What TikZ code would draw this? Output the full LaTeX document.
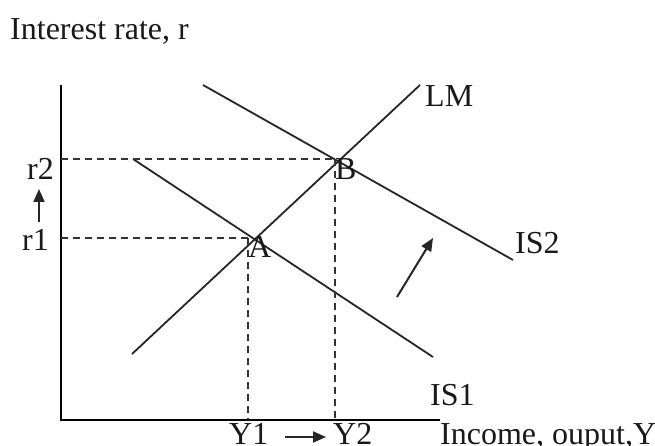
\documentclass[tikz,border=0pt]{standalone}
\usepackage{fontspec}
\setmainfont{Liberation Serif}
\usetikzlibrary{arrows.meta}
\begin{document}
\begin{tikzpicture}[x=1pt,y=-1pt,
  curve/.style={line width=1.8pt,black!85},
  axisline/.style={line width=2pt,black},
  guide/.style={line width=1.8pt,black!80,dash pattern=on 7pt off 5pt},
  lbl/.style={inner sep=0pt,font=\fontsize{32}{38}\selectfont,text=black!90},
  movearrow/.style={line width=2pt,black!85,-{Triangle[length=13pt,width=11pt]}}]
\useasboundingbox[fill=white] (0,0) rectangle (655,446);
% axes
\coordinate (O) at (61,420);
\coordinate (ytop) at (61,85);
\coordinate (xend) at (440,420);
\draw[axisline] (ytop) -- (O) -- (xend);
% key points
\coordinate (A) at (251,238);
\coordinate (B) at (334,159);
\coordinate (r2ax) at (61,159);
\coordinate (r1ax) at (61,238);
\coordinate (y1ax) at (248,420);
\coordinate (y1top) at (248,238);
\coordinate (y2ax) at (335,420);
\coordinate (y2top) at (335,159);
% curves
\coordinate (lmS) at (132,354);
\coordinate (lmE) at (420,85);
\coordinate (is1S) at (133,159);
\coordinate (is1E) at (433,357);
\coordinate (is2S) at (203,85);
\coordinate (is2E) at (513,260);
\draw[curve] (lmS) -- (lmE);
\draw[curve] (is1S) -- (is1E);
\draw[curve] (is2S) -- (is2E);
% guides
\draw[guide] (r2ax) -- (B);
\draw[guide] (r1ax) -- (A);
\draw[guide] (y1top) -- (y1ax);
\draw[guide] (y2top) -- (y2ax);
% labels
\node[lbl,anchor=base west] (title) at (10,40) {Interest rate, r};
\node[lbl,anchor=base west] (r2) at (27,180) {r2};
\node[lbl,anchor=base west] (r1) at (22,251) {r1};
\node[lbl,anchor=base west] (lA) at (248,257) {A};
\node[lbl,anchor=base west] (lB) at (335,180) {B};
\node[lbl,anchor=base west] (lLM) at (425,107) {LM};
\node[lbl,anchor=base west] (lIS2) at (515,253) {IS2};
\node[lbl,anchor=base west] (lIS1) at (430,405) {IS1};
\node[lbl,anchor=base west] (lY1) at (229,444) {Y1};
\node[lbl,anchor=base west] (lY2) at (333,444) {Y2};
\node[lbl,anchor=base west] (xlab) at (440,444) {Income, ouput,Y};
% shift arrows
\coordinate (upS) at (39,222);
\coordinate (upE) at (39,189);
\draw[movearrow] (upS) -- (upE);
\coordinate (rtS) at (285,437);
\coordinate (rtE) at (326,437);
\draw[movearrow] (rtS) -- (rtE);
\coordinate (dgS) at (397,297);
\coordinate (dgE) at (433,238);
\draw[movearrow] (dgS) -- (dgE);
\end{tikzpicture}
\end{document}
